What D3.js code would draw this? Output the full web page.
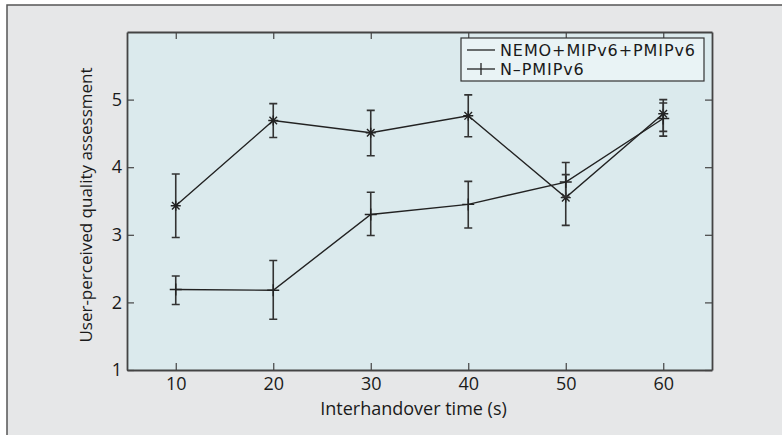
<!DOCTYPE html>
<html>
<head>
<meta charset="utf-8">
<script src="https://cdn.jsdelivr.net/npm/d3@7"></script>
<style>
  body { margin: 0; background: #fff; }
  text { font-family: "Open Sans", "Noto Sans", sans-serif; fill: #1a1a1a; }
</style>
</head>
<body>
<div id="chart"></div>
<script>
// User-perceived quality vs interhandover time, with error bars

const times = [10, 20, 30, 40, 50, 60];
const xTicks = [10, 20, 30, 40, 50, 60];
const yTicks = [1, 2, 3, 4, 5];

// NEMO+MIPv6+PMIPv6 (asterisk markers)
const nemoMean = [3.43, 4.69, 4.51, 4.76, 3.55, 4.79];
const nemoLow  = [2.96, 4.44, 4.17, 4.45, 3.14, 4.46];
const nemoHigh = [3.90, 4.94, 4.84, 5.07, 4.07, 5.00];

// N-PMIPv6 (plus markers)
const npmMean = [2.19, 2.18, 3.30, 3.45, 3.78, 4.72];
const npmLow  = [1.97, 1.75, 2.99, 3.10, 3.56, 4.53];
const npmHigh = [2.39, 2.62, 3.63, 3.79, 3.89, 4.95];

const seriesNames = ["NEMO+MIPv6+PMIPv6", "N\u2013PMIPv6"];

const width = 782,
    height = 435,
    margin = ({top: 32, right: 70, bottom: 65, left: 127});

const svg = d3.select("#chart")
    .append("svg")
    .attr("width", width)
    .attr("height", height);

// outer panel
svg.append("rect")
    .attr("x", 7).attr("y", 5)
    .attr("width", width).attr("height", height)
    .attr("fill", "#e6e7e8");
svg.append("path")
    .attr("d", `M7,${height}V5H${width}`)
    .attr("fill", "none")
    .attr("stroke", "#555")
    .attr("stroke-width", 1.5);

const x = d3.scaleLinear()
    .domain([5, 65])
    .range([margin.left, width - margin.right]);

const y = d3.scaleLinear()
    .domain([1, 6])
    .range([height - margin.bottom, margin.top]);

// plot background
svg.append("rect")
    .attr("x", x(5)).attr("y", y(6))
    .attr("width", x(65) - x(5))
    .attr("height", y(1) - y(6))
    .attr("fill", "#dbeaed");

// axes on all four sides, ticks pointing inward
const styleAxis = g => {
    g.attr("font-size", 18).attr("font-family", '"Open Sans", sans-serif');
    g.select(".domain").attr("stroke", "#444").attr("stroke-width", 1.8);
    g.selectAll(".tick line").attr("stroke", "#444").attr("stroke-width", 1.2);
    g.selectAll(".tick text").attr("fill", "#1a1a1a");
};

svg.append("g")
    .attr("transform", `translate(0,${y(1)})`)
    .call(d3.axisBottom(x).tickValues(xTicks).tickSizeInner(-7).tickSizeOuter(0).tickPadding(7).tickFormat(d3.format("d")))
    .call(styleAxis);

svg.append("g")
    .attr("transform", `translate(0,${y(6)})`)
    .call(d3.axisTop(x).tickValues(xTicks).tickSizeInner(-7).tickSizeOuter(0).tickFormat(""))
    .call(styleAxis);

svg.append("g")
    .attr("transform", `translate(${x(5)},0)`)
    .call(d3.axisLeft(y).tickValues(yTicks).tickSizeInner(-7).tickSizeOuter(0).tickPadding(5).tickFormat(d3.format("d")))
    .call(styleAxis);

svg.append("g")
    .attr("transform", `translate(${x(65)},0)`)
    .call(d3.axisRight(y).tickValues(yTicks).tickSizeInner(-7).tickSizeOuter(0).tickFormat(""))
    .call(styleAxis);

// axis titles
svg.append("text")
    .attr("x", (x(5) + x(65)) / 2 - 6)
    .attr("y", 415)
    .attr("text-anchor", "middle")
    .attr("font-size", 18)
    .text("Interhandover time (s)");

svg.append("text")
    .attr("transform", `translate(92,${(y(1) + y(6)) / 2 + 4}) rotate(-90)`)
    .attr("text-anchor", "middle")
    .attr("font-size", 17)
    .text("User-perceived quality assessment");

const line = d3.line()
    .x(d => x(d.t))
    .y(d => y(d.m));

const makeRows = (m, lo, hi) => times.map((t, i) => ({t: t, m: m[i], lo: lo[i], hi: hi[i]}));
const nemo = makeRows(nemoMean, nemoLow, nemoHigh);
const npm = makeRows(npmMean, npmLow, npmHigh);

const drawSeries = (rows, marker) => {
    const g = svg.append("g");
    g.append("path")
        .datum(rows)
        .attr("d", line)
        .attr("fill", "none")
        .attr("stroke", "#222")
        .attr("stroke-width", 1.4);

    // error bars with caps
    g.selectAll(".eb")
        .data(rows)
        .join("path")
        .attr("d", d => `M${x(d.t) - 4},${y(d.hi)}H${x(d.t) + 4}M${x(d.t)},${y(d.hi)}V${y(d.lo)}M${x(d.t) - 4},${y(d.lo)}H${x(d.t) + 4}`)
        .attr("fill", "none")
        .attr("stroke", "#333")
        .attr("stroke-width", 1.6);

    g.selectAll(".mk")
        .data(rows)
        .join("path")
        .attr("d", d => {
            const cx = x(d.t), cy = y(d.m);
            if (marker == "star") {
                const r = 5, q = 3.8;
                return `M${cx - r},${cy}H${cx + r}M${cx},${cy - r}V${cy + r}` +
                    `M${cx - q},${cy - q}L${cx + q},${cy + q}M${cx - q},${cy + q}L${cx + q},${cy - q}`;
            }
            return `M${cx - 6},${cy}H${cx + 6}M${cx},${cy - 6}V${cy + 6}`;
        })
        .attr("fill", "none")
        .attr("stroke", "#222")
        .attr("stroke-width", 1.4);
};

drawSeries(nemo, "star");
drawSeries(npm, "plus");

// legend
const legend = svg.append("g").attr("transform", "translate(461,38)");
legend.append("rect")
    .attr("width", 243).attr("height", 43)
    .attr("fill", "#e9f3f5")
    .attr("stroke", "#333")
    .attr("stroke-width", 1.2);

seriesNames.forEach((name, i) => {
    const cy = 12 + i * 19;
    legend.append("line")
        .attr("x1", 6).attr("x2", 34)
        .attr("y1", cy).attr("y2", cy)
        .attr("stroke", "#222").attr("stroke-width", 1.3);
    if (i == 1) {
        legend.append("line")
            .attr("x1", 20).attr("x2", 20)
            .attr("y1", cy - 6).attr("y2", cy + 6)
            .attr("stroke", "#222").attr("stroke-width", 1.3);
    }
    legend.append("text")
        .attr("x", 39)
        .attr("y", cy + 6)
        .attr("font-size", 16)
        .style("font-family", '"DejaVu Sans", sans-serif')
        .attr("letter-spacing", 0.9)
        .text(name);
});
</script>
</body>
</html>
